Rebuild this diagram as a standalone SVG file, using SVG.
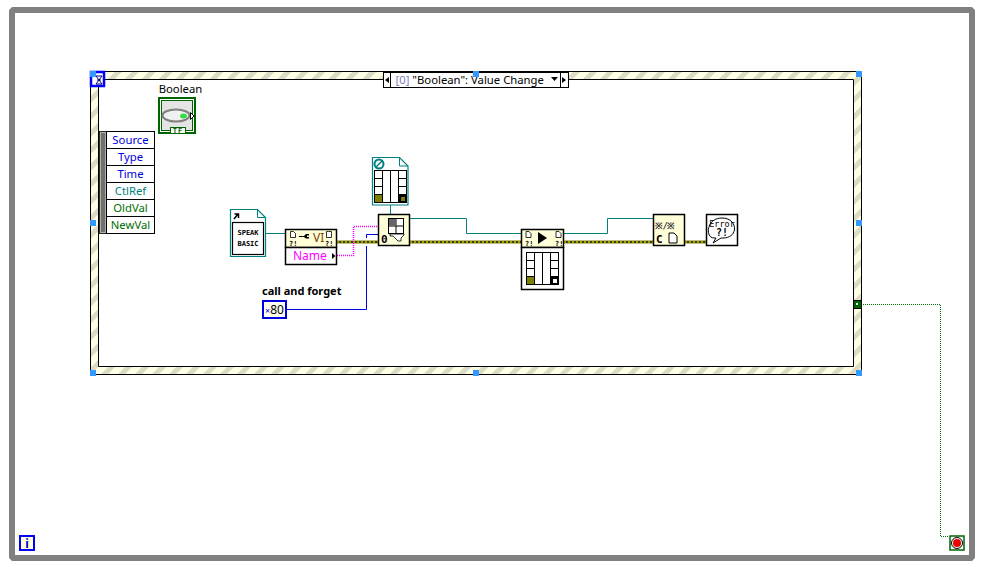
<svg xmlns="http://www.w3.org/2000/svg" width="993" height="576" viewBox="0 0 993 576">
<style>
text{font-family:"Noto Sans","Liberation Sans",sans-serif;font-size:11.3px;fill:#000}
.m{text-anchor:middle}
.b{fill:#fff;stroke:#000;stroke-width:1}
.y{fill:#FFFFD8;stroke:#000;stroke-width:1.5}
.t{fill:none;stroke:#008080;stroke-width:1}
.h{fill:#3399FF}
.doc{fill:#fff;stroke:#008080;stroke-width:1.2}
.pix{font-family:"DejaVu Sans Mono","Liberation Mono",monospace;font-weight:700}
</style>
<defs>
<pattern id="hatch" width="12" height="12" patternUnits="userSpaceOnUse" patternTransform="rotate(-45)">
<rect width="12" height="12" fill="#FFFFE4"/><rect width="12" height="5" fill="#DCDCC6"/>
</pattern>
</defs>

<g id="while-loop">
<rect x="12" y="10" width="960" height="548" fill="#fff" stroke="#808080" stroke-width="6" stroke-linejoin="bevel"/>
</g>

<g id="event-structure">
<path fill="url(#hatch)" fill-rule="evenodd" stroke="#000" stroke-width="1" d="M90.500 71.500H861.500V374.500H90.500ZM98.500 79.500V366.500H853.500V79.500Z"/>
<rect x="91" y="72" width="13" height="14" fill="#fff" stroke="#0000FF" stroke-width="2.500"/>
<path d="M96 76h6l-6 8h6zM97 80h4" fill="none" stroke="#000080" stroke-width="1"/>
<rect class="h" x="90" y="71" width="6" height="6"/>
</g>

<g id="case-selector">
<rect x="383.500" y="72.500" width="185" height="15" fill="#fff" stroke="#000"/>
<path d="M390.500 72.500v15M560.500 72.500v15" stroke="#000"/>
<path d="M389 77v6l-4-3zM562 77v6l4-3z" fill="#000"/>
<text x="395.500" y="84"><tspan style="fill:#8080C0">[0]</tspan> "Boolean": Value Change</text>
<path d="M551 77h7l-3.500 4z" fill="#000"/>
<rect class="h" x="473" y="71" width="6" height="6"/>
</g>

<g id="handles">
<rect class="h" x="856" y="71" width="6" height="6"/>
<rect class="h" x="90" y="220" width="6" height="6"/>
<rect class="h" x="856" y="220" width="6" height="6"/>
<rect class="h" x="90" y="370" width="6" height="6"/>
<rect class="h" x="473" y="370" width="6" height="6"/>
<rect class="h" x="856" y="370" width="6" height="6"/>
</g>

<g id="connectors">
<path d="M861 304.500H940.500V536.500H949" fill="none" stroke="#007000" stroke-dasharray="1 1"/>
<path class="t" d="M266 233.500H285M390.500 205V214M410 218.500H466.500V233.500H521M564 233.500H607.500V218.500H653"/>
<path d="M337 242H378M410 242H521M564 242H653M685 242H706" fill="none" stroke="#808000" stroke-width="3"/>
<path d="M337 242H378M410 242H521M564 242H653M685 242H706" fill="none" stroke="#000" stroke-width="1"/>
<path d="M337 242H378M410 242H521M564 242H653M685 242H706" fill="none" stroke="#FFFF00" stroke-width="1" stroke-dasharray="2 2"/>
<path d="M337 255.500H353.500V226.500H378" fill="none" stroke="#FF00FF" stroke-width="1.500" stroke-dasharray="1 1"/>
<path d="M287 309.500H366.500V246M366.500 238V234.500H378" fill="none" stroke="#0000E0" stroke-width="1"/>
</g>

<g id="boolean">
<text class="m" x="180.500" y="93">Boolean</text>
<rect x="159" y="98" width="36" height="35" fill="#fff" stroke="#006400" stroke-width="2"/>
<rect x="161.500" y="100.500" width="31" height="30" fill="#E4E4E4" stroke="#006400" stroke-width="1"/>
<ellipse cx="176" cy="115.500" rx="13.500" ry="6" fill="#F0F0F0" stroke="#808080" stroke-width="2"/>
<ellipse cx="183.500" cy="116" rx="3.500" ry="2.500" fill="#33DD44"/>
<path d="M190.500 112.500l3.500 3.500-3.500 3.500z" fill="#fff" stroke="#000"/>
<rect x="170.500" y="127.500" width="15" height="6" fill="#fff" stroke="#006400"/>
<text class="m pix" x="178" y="133" style="font-size:7px;letter-spacing:1px;fill:#006400">TF</text>
</g>

<g id="event-data">
<rect x="99.500" y="131.500" width="7" height="102" fill="#B0B0A0" stroke="#000" stroke-width="0.800"/>
<rect x="101" y="133" width="4" height="99" fill="#707070"/>
<rect class="b" x="106.500" y="131.500" width="48" height="102"/>
<path d="M106.500 148.500h48M106.500 165.500h48M106.500 182.500h48M106.500 199.500h48M106.500 216.500h48" stroke="#000"/>
<text class="m" x="130.500" y="144" style="fill:#0000E0">Source</text>
<text class="m" x="130.500" y="161" style="fill:#0000E0">Type</text>
<text class="m" x="130.500" y="178" style="fill:#0000E0">Time</text>
<text class="m" x="130.500" y="195" style="fill:#008080">CtlRef</text>
<text class="m" x="130.500" y="212" style="fill:#007000">OldVal</text>
<text class="m" x="130.500" y="229" style="fill:#007000">NewVal</text>
</g>

<g id="vi-ref-speak">
<path class="doc" d="M230.500 209.500h27l8 8v39h-35z"/>
<path d="M257.500 209.500v8h8" fill="none" stroke="#008080"/>
<rect x="232.500" y="222.500" width="31" height="32" fill="#fff" stroke="#000" stroke-width="1.200"/>
<path d="M234 219l4-5M234.500 214h4v4" fill="none" stroke="#000" stroke-width="1.500"/>
<text class="m pix" x="248" y="235" style="font-size:7px">SPEAK</text>
<text class="m pix" x="248" y="246" style="font-size:7px">BASIC</text>
</g>

<g id="property-node">
<rect class="y" x="285.500" y="229.500" width="51" height="18"/>
<rect class="b" x="285.500" y="247.500" width="51" height="17" style="stroke-width:1.500"/>
<path d="M290.500 231.500h3l2 2v4h-5zM331.500 231.500h-3l-2 0v6h5v-4z" fill="#fff" stroke="#000" stroke-width="0.800"/>
<text class="pix" x="289" y="246" style="font-size:7px">?!</text>
<text class="pix" x="325" y="246" style="font-size:7px">?!</text>
<path d="M299 236h5l2-2h3v1.500h-2v1.500h2v1.500h-3l-2-1.500h-5z" fill="#000"/>
<text x="313" y="242" style="font-size:12px;fill:#804000">VI</text>
<text x="293" y="260" style="font-size:12px;fill:#FF00FF">Name</text>
<path d="M332 253l3.500 3-3.500 3z" fill="#000"/>
</g>

<g id="doc-flags">
<path class="doc" d="M372.500 157.500h27l8.500 8.500v39h-35.500z"/>
<path d="M399.500 157.500v8.500h8.500" fill="none" stroke="#008080"/>
<circle cx="379" cy="164" r="4.500" fill="#fff" stroke="#008080" stroke-width="2"/>
<path d="M376 167l6-6" stroke="#008080" stroke-width="1.500"/>
<rect x="374.500" y="170.500" width="32" height="32" fill="#fff" stroke="#000"/>
<path d="M374.500 178.500h8M398.500 178.500h8M374.500 186.500h8M398.500 186.500h8M374.500 194.500h8M398.500 194.500h8M382.500 170.500v32M390.500 170.500v32M398.500 170.500v32" stroke="#000" fill="none"/>
<rect x="375" y="195" width="7" height="7" fill="#808000"/>
<rect x="399" y="195" width="7" height="7" fill="#000"/>
<rect x="401" y="197" width="4" height="4" fill="#808000"/>
</g>

<g id="open-vi">
<rect class="y" x="378.500" y="214.500" width="31" height="31"/>
<rect x="388.500" y="218.500" width="15" height="15" fill="#fff" stroke="#000"/>
<path d="M396 218.500v15M388.500 226h15" stroke="#000"/>
<rect x="389" y="219" width="7" height="7" fill="#666"/>
<path d="M390 234h14v1l-3 3v3h-3l-5-5h-3z" fill="#fff" stroke="#000" stroke-width="0.800"/>
<text class="pix" x="381" y="243" style="font-size:11px">0</text>
</g>

<g id="const-80">
<text x="262" y="295" style="font-size:11px;font-weight:700">call and forget</text>
<rect x="263" y="301" width="23" height="17" fill="#FFFFF0" stroke="#0000E0" stroke-width="2"/>
<text x="265" y="314" style="font-size:12px"><tspan style="font-size:9px;fill:#0000E0">×</tspan>80</text>
</g>

<g id="invoke-node">
<rect class="y" x="521.500" y="229.500" width="42" height="18"/>
<rect x="521.500" y="247.500" width="42" height="42" fill="#fff" stroke="#000" stroke-width="1.500"/>
<path d="M538 232l9 6-9 6z" fill="#000"/>
<path d="M526 231.500h3l2 2v4h-5zM556 231.500h3l2 2v4h-5z" fill="#fff" stroke="#000" stroke-width="0.800"/>
<text class="pix" x="525" y="246" style="font-size:7px">?!</text>
<text class="pix" x="555" y="246" style="font-size:7px">?!</text>
<rect x="526.500" y="252.500" width="32" height="32" fill="#fff" stroke="#000"/>
<path d="M526.500 260.500h8M550.500 260.500h8M526.500 268.500h8M550.500 268.500h8M526.500 276.500h8M550.500 276.500h8M534.500 252.500v32M542.500 252.500v32M550.500 252.500v32" stroke="#000" fill="none"/>
<rect x="527" y="277" width="7" height="7" fill="#808000"/>
<rect x="551" y="277" width="7" height="7" fill="#000"/>
<rect x="553" y="279" width="4" height="4" fill="#fff"/>
</g>

<g id="close-ref">
<rect class="y" x="653.500" y="214.500" width="31" height="31"/>
<text class="pix" x="655" y="229" style="font-size:9px;fill:#333;letter-spacing:-0.500px">※/※</text>
<text class="pix" x="656" y="243" style="font-size:11px">C</text>
<path d="M669 233h5l3 3v7h-8z" fill="#fff" stroke="#000"/>
</g>

<g id="error-handler">
<rect x="706.500" y="214.500" width="31" height="31" fill="#fff" stroke="#000" stroke-width="1.500"/>
<path d="M716 238h-2c-9 0-8-20 8-20s17 20 1 20h-2l-8 5z" fill="#fff" stroke="#000" stroke-width="1"/>
<text class="m pix" x="722" y="227" style="font-size:8.500px;font-weight:400">Error</text>
<text class="m pix" x="722" y="236" style="font-size:10px">?!</text>
</g>

<g id="tunnel">
<rect x="853.500" y="300.500" width="8" height="8" fill="#006400" stroke="#000"/>
<rect x="856" y="303" width="2" height="2" fill="#fff"/>
</g>

<g id="loop-index">
<rect x="20" y="536" width="14" height="14" fill="#FFFFD8" stroke="#0000FF" stroke-width="2"/>
<text class="m" x="27" y="548" style="font-size:12px;font-weight:700;fill:#0000E0">i</text>
</g>

<g id="stop-terminal">
<rect x="950" y="536" width="14" height="14" fill="#fff" stroke="#006400" stroke-width="1.500"/>
<circle cx="957" cy="543" r="5.500" fill="#fff" stroke="#000"/>
<circle cx="957" cy="543" r="4" fill="#EE0000"/>
</g>
</svg>
